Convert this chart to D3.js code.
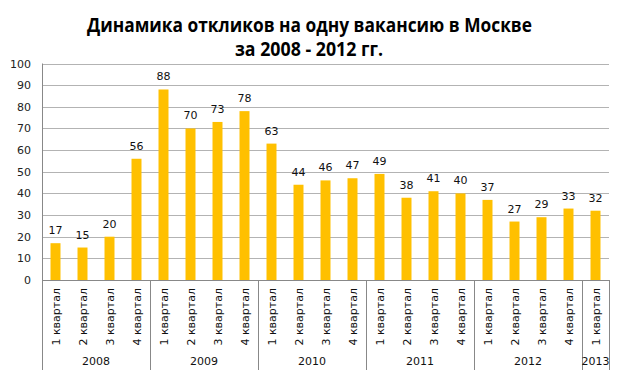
<!DOCTYPE html>
<html>
<head>
<meta charset="utf-8">
<script src="https://cdn.jsdelivr.net/npm/d3@7"></script>
<style>
  body { margin: 0; background: #fff; }
  text { font-family: "DejaVu Sans", Verdana, sans-serif; }
</style>
</head>
<body>
<div id="viz-container"></div>
<script>
// data
let quarters = ["1 квартал","2 квартал","3 квартал","4 квартал",
  "1 квартал","2 квартал","3 квартал","4 квартал",
  "1 квартал","2 квартал","3 квартал","4 квартал",
  "1 квартал","2 квартал","3 квартал","4 квартал",
  "1 квартал","2 квартал","3 квартал","4 квартал",
  "1 квартал"];
let years = ["2008","2009","2010","2011","2012","2013"];
let quartersPerYear = [4, 4, 4, 4, 4, 1];
let values = [17, 15, 20, 56, 88, 70, 73, 78, 63, 44, 46, 47, 49, 38, 41, 40, 37, 27, 29, 33, 32];
let yTicks = [0, 10, 20, 30, 40, 50, 60, 70, 80, 90, 100];

let width = 624, height = 374;
let plotLeft = 42, plotRight = 609, plotTop = 63.5, plotBottom = 280;

let viz = d3.select("#viz-container")
  .append("svg")
  .attr("width", width)
  .attr("height", height)
;

let x = d3.scaleBand().domain(d3.range(values.length)).range([plotLeft, plotRight]).paddingInner(0.63).paddingOuter(0.315);
let y = d3.scaleLinear().domain([0, 100]).range([plotBottom, plotTop]);

// title (condensed to the width of the original)
viz.append("text").attr("x", 87).attr("y", 32)
  .attr("textLength", 445).attr("lengthAdjust", "spacingAndGlyphs")
  .style("font-family", "'Open Sans', sans-serif").style("font-weight", "bold").style("font-size", "19px")
  .text("Динамика откликов на одну вакансию в Москве");
viz.append("text").attr("x", 235).attr("y", 56)
  .attr("textLength", 148).attr("lengthAdjust", "spacingAndGlyphs")
  .style("font-family", "'Open Sans', sans-serif").style("font-weight", "bold").style("font-size", "19px")
  .text("за 2008 - 2012 гг.");

// gridlines
viz.selectAll("line.grid").data(yTicks.slice(1)).enter().append("line")
  .attr("class", "grid")
  .attr("x1", plotLeft).attr("x2", plotRight)
  .attr("y1", d => Math.round(y(d)) + 0.5).attr("y2", d => Math.round(y(d)) + 0.5)
  .attr("stroke", "#b3b3b3").attr("stroke-width", 1)
;

// y axis labels
viz.selectAll("text.ytick").data(yTicks).enter().append("text")
  .attr("class", "ytick")
  .attr("x", 31).attr("y", d => y(d) + 4)
  .attr("text-anchor", "end")
  .style("font-size", "11px").attr("fill", "#222")
  .text(d => d)
;

// bars
viz.selectAll("rect.bar").data(values).enter().append("rect")
  .attr("class", "bar")
  .attr("x", (d, i) => x(i))
  .attr("y", d => y(d))
  .attr("width", x.bandwidth())
  .attr("height", d => plotBottom - y(d))
  .attr("fill", "#ffc000")
;

// value labels
viz.selectAll("text.val").data(values).enter().append("text")
  .attr("class", "val")
  .attr("x", (d, i) => x(i) + x.bandwidth() / 2)
  .attr("y", d => y(d) - 9)
  .attr("text-anchor", "middle")
  .style("font-size", "11px").attr("fill", "#111")
  .text(d => d)
;

// axes lines
let step = x.step();
viz.append("line").attr("x1", plotLeft + 0.5).attr("x2", plotLeft + 0.5).attr("y1", plotTop).attr("y2", 370)
  .attr("stroke", "#888");
viz.append("line").attr("x1", plotLeft).attr("x2", plotRight).attr("y1", plotBottom + 0.5).attr("y2", plotBottom + 0.5)
  .attr("stroke", "#888");

// year separators
let cum = 0;
let bounds = [];
quartersPerYear.forEach(n => { cum += n; bounds.push(cum); });
viz.selectAll("line.sep").data(bounds).enter().append("line")
  .attr("class", "sep")
  .attr("x1", d => Math.round(plotLeft + d * step) + 0.5).attr("x2", d => Math.round(plotLeft + d * step) + 0.5)
  .attr("y1", plotBottom).attr("y2", 370)
  .attr("stroke", "#888")
;

// quarter labels
viz.selectAll("text.q").data(quarters).enter().append("text")
  .attr("class", "q")
  .attr("transform", (d, i) => "translate(" + (x(i) + x.bandwidth() / 2 + 4) + ",288) rotate(-90)")
  .attr("text-anchor", "end")
  .style("font-size", "11px").attr("fill", "#111")
  .text(d => d)
;

// year labels
let start = 0;
years.forEach((yr, k) => {
  let n = quartersPerYear[k];
  viz.append("text")
    .attr("x", plotLeft + (start + n / 2) * step)
    .attr("y", 365)
    .attr("text-anchor", "middle")
    .style("font-size", "11px").attr("fill", "#111")
    .text(yr);
  start += n;
});
</script>
</body>
</html>
